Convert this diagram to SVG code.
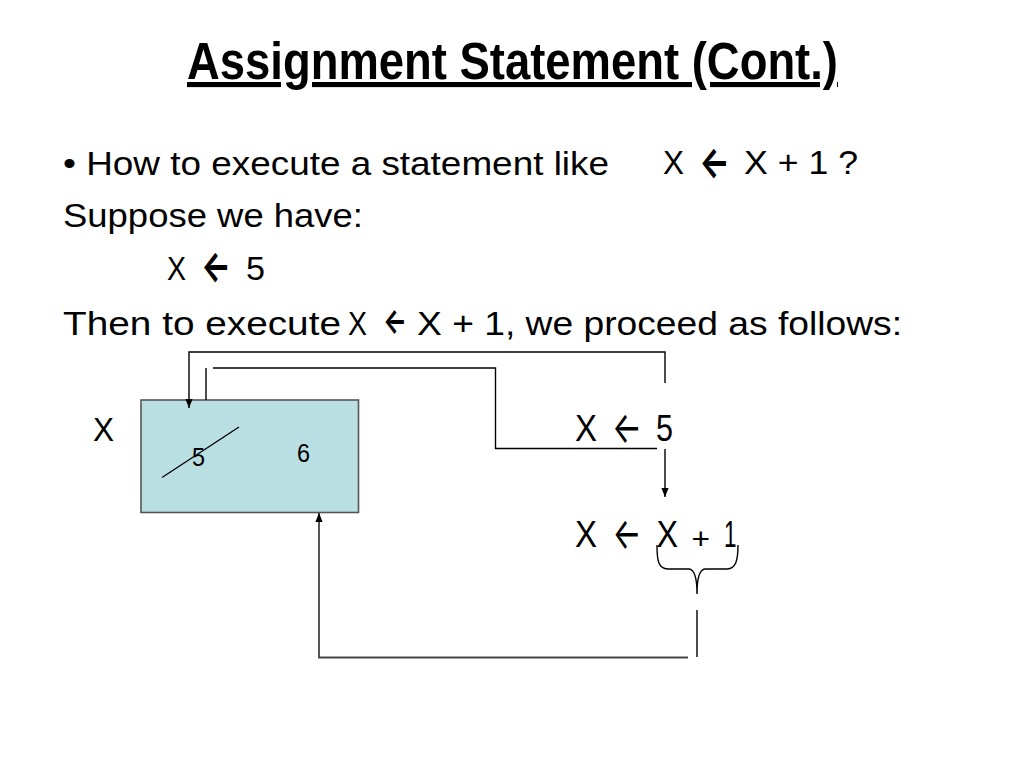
<svg xmlns="http://www.w3.org/2000/svg" width="1024" height="768" viewBox="0 0 1024 768">
<defs>
<style>
.t{font-family:"Liberation Sans",Arial,sans-serif;fill:#000}
.ba{font-family:Inter,"DejaVu Sans",sans-serif;font-weight:bold;fill:#000}
.ta{font-family:Inter,"DejaVu Sans",sans-serif;font-weight:normal;fill:#000}
.ln{fill:none;stroke:#000;stroke-width:1.4}
</style>
<marker id="ah" viewBox="0 0 10 8" refX="10" refY="4" markerWidth="9" markerHeight="8" markerUnits="userSpaceOnUse" orient="auto">
<path d="M0,0 L10,4 L0,8 z" fill="#000"/>
</marker>
</defs>
<rect width="1024" height="768" fill="#fff"/>
<g id="title">
<text class="t" x="187" y="79" font-size="51" font-weight="bold" text-decoration="underline" textLength="651" lengthAdjust="spacingAndGlyphs">Assignment Statement (Cont.)</text>
</g>
<g id="body">
<text class="t" x="63" y="175" font-size="33" textLength="546" lengthAdjust="spacingAndGlyphs">• How to execute a statement like</text>
<text class="t" x="663" y="174" font-size="34" textLength="21" lengthAdjust="spacingAndGlyphs">X</text>
<text class="ba" x="699" y="177" font-size="42" textLength="31" lengthAdjust="spacingAndGlyphs">←</text>
<text class="t" x="744" y="174" font-size="34" textLength="114" lengthAdjust="spacingAndGlyphs">X + 1 ?</text>
<text class="t" x="63" y="227" font-size="33" textLength="300" lengthAdjust="spacingAndGlyphs">Suppose we have:</text>
<text class="t" x="167" y="280" font-size="33" textLength="19" lengthAdjust="spacingAndGlyphs">X</text>
<text class="ba" x="201" y="281" font-size="42" textLength="30" lengthAdjust="spacingAndGlyphs">←</text>
<text class="t" x="246" y="280" font-size="33" textLength="19" lengthAdjust="spacingAndGlyphs">5</text>
<text class="t" x="63" y="335" font-size="33" textLength="278" lengthAdjust="spacingAndGlyphs">Then to execute</text>
<text class="t" x="348" y="335" font-size="33" textLength="19" lengthAdjust="spacingAndGlyphs">X</text>
<text class="ba" x="383" y="333" font-size="34" textLength="24" lengthAdjust="spacingAndGlyphs">←</text>
<text class="t" x="417" y="335" font-size="33" textLength="485" lengthAdjust="spacingAndGlyphs">X + 1, we proceed as follows:</text>
</g>
<g id="memory-box">
<rect x="141" y="400" width="217.5" height="112.5" fill="#badfe3" stroke="#555" stroke-width="1.6"/>
<text class="t" x="192" y="466" font-size="25" textLength="13" lengthAdjust="spacingAndGlyphs">5</text>
<text class="t" x="297" y="462" font-size="25" textLength="13" lengthAdjust="spacingAndGlyphs">6</text>
<line x1="162" y1="477.5" x2="239" y2="427" stroke="#000" stroke-width="1.3"/>
</g>
<g id="label-x">
<text class="t" x="93" y="441" font-size="33" textLength="21" lengthAdjust="spacingAndGlyphs">X</text>
</g>
<g id="stmt1">
<text class="t" x="575" y="441" font-size="36" textLength="22" lengthAdjust="spacingAndGlyphs">X</text>
<text class="ta" x="612" y="443" font-size="44" textLength="30" lengthAdjust="spacingAndGlyphs">←</text>
<text class="t" x="656" y="441" font-size="36" textLength="17" lengthAdjust="spacingAndGlyphs">5</text>
</g>
<g id="stmt2">
<text class="t" x="575" y="547" font-size="36" textLength="22" lengthAdjust="spacingAndGlyphs">X</text>
<text class="ta" x="612.5" y="549" font-size="44" textLength="29" lengthAdjust="spacingAndGlyphs">←</text>
<text class="t" x="656.5" y="547" font-size="36" textLength="21.5" lengthAdjust="spacingAndGlyphs">X</text>
<text class="t" x="691.5" y="549" font-size="29" textLength="18.5" lengthAdjust="spacingAndGlyphs">+</text>
<text class="t" x="724" y="547" font-size="36" textLength="12.5" lengthAdjust="spacingAndGlyphs">1</text>
</g>
<g id="connectors">
<path class="ln" d="M665,383 V352 H189 V408" marker-end="url(#ah)"/>
<path class="ln" d="M206,400 V368"/>
<path class="ln" d="M213,368 H495.5 V448.5 H657"/>
<path class="ln" d="M665,449 V497" marker-end="url(#ah)"/>
<path class="ln" d="M657,545 C657,560 658,568.5 668,569 H689 C695,569.5 697,578 697,594 C697,578 699,569.5 705,569 H727 C736,568.5 738,560 738,545"/>
<path class="ln" d="M697,610 V657"/>
<path fill="none" stroke="#444" stroke-width="1.8" d="M688,657.5 H319 V513" marker-end="url(#ah)"/>
</g>
</svg>
